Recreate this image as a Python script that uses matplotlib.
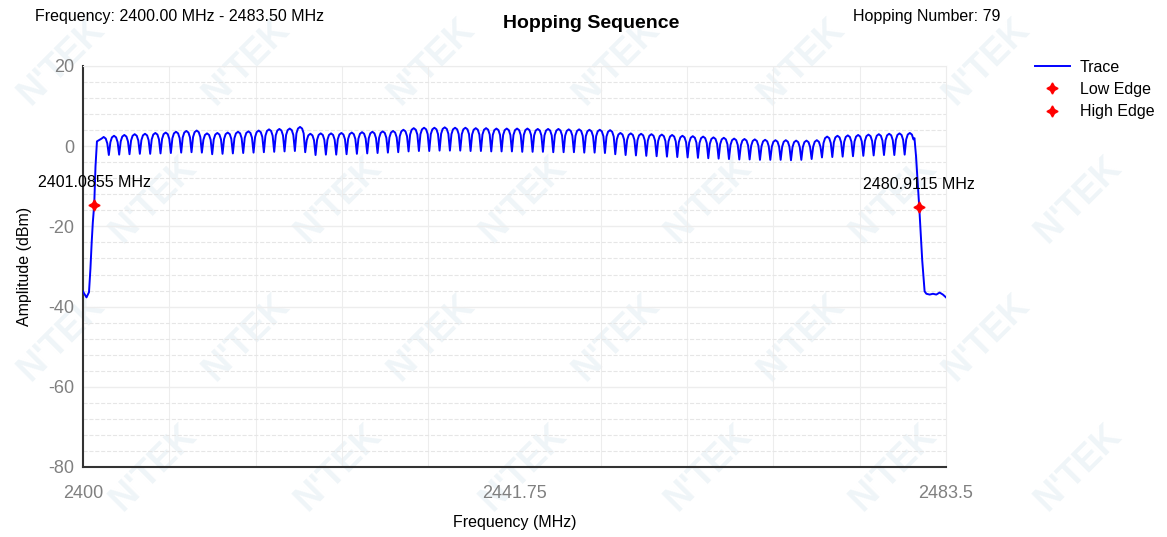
import numpy as np
import matplotlib
matplotlib.use("Agg")
import matplotlib.pyplot as plt

plt.rcParams['font.family'] = ['Liberation Sans', 'DejaVu Sans']
plt.rcParams['axes.unicode_minus'] = False

# hopping channels, 1 MHz apart
channels = np.arange(2402, 2481)

# peak level of each channel hump (dBm)
peak_db = [2.3, 2.6, 2.8, 3.0, 3.1, 3.3, 3.4, 3.6, 3.8, 3.9,
           3.2, 3.3, 3.4, 3.6, 3.7, 3.9, 4.2, 4.3, 4.4, 4.8,
           3.1, 3.2, 3.2, 3.3, 3.4, 3.5, 3.6, 3.7, 3.8, 4.1,
           4.5, 4.6, 4.6, 4.7, 4.6, 4.6, 4.5, 4.5, 4.4, 4.4,
           4.4, 4.4, 4.3, 4.3, 4.3, 4.2, 4.2, 4.1, 4.1, 4.0,
           3.3, 3.2, 3.1, 3.0, 2.9, 2.8, 2.6, 2.5, 2.4, 2.2,
           2.1, 1.9, 1.8, 1.7, 1.6, 1.5, 1.5, 1.4, 1.4, 1.5,
           2.4, 2.6, 2.7, 2.8, 2.9, 3.0, 3.1, 3.2, 3.3]

# level of the notch between neighbouring channels (dBm)
dip_db = [-2.2, -2.1, -2.0, -1.9, -1.9, -1.8, -1.7, -1.6, -1.5, -1.6,
          -2.0, -1.9, -1.8, -1.7, -1.6, -1.5, -1.4, -1.3, -1.2, -1.5,
          -2.2, -2.1, -2.1, -2.0, -1.9, -1.8, -1.7, -1.6, -1.5, -1.3,
          -1.2, -1.2, -1.1, -1.1, -1.1, -1.2, -1.2, -1.3, -1.3, -1.3,
          -1.4, -1.4, -1.4, -1.5, -1.5, -1.5, -1.6, -1.6, -1.7, -2.0,
          -2.2, -2.3, -2.4, -2.5, -2.6, -2.7, -2.8, -2.9, -3.0, -3.1,
          -3.2, -3.3, -3.3, -3.4, -3.4, -3.4, -3.5, -3.4, -3.2, -2.8,
          -2.7, -2.6, -2.5, -2.4, -2.3, -2.2, -2.2, -2.1]

# band skirts
low_skirt_f = [2400.0, 2400.1, 2400.34, 2400.58, 2400.72, 2400.84, 2400.95, 2401.0855, 2401.21, 2401.35]
low_skirt_a = [-36.2, -36.7, -37.7, -36.4, -30.5, -24.0, -19.0, -14.6, -5.0, 1.2]
high_skirt_f = [2480.45, 2480.6, 2480.9115, 2481.2, 2481.43, 2481.6, 2481.92, 2482.24, 2482.56, 2482.88, 2483.2, 2483.5]
high_skirt_a = [2.0, -2.5, -15.2, -28.5, -36.2, -36.8, -37.0, -36.8, -37.0, -36.5, -37.0, -37.7]

low_edge = (2401.0855, -14.6)
high_edge = (2480.9115, -15.2)

# hump outline inside one channel
hump_off = [-0.35, -0.2, 0.0, 0.2, 0.35]
hump_drop = [1.6, 0.4, 0.0, 0.4, 1.6]

f = list(low_skirt_f)
a = list(low_skirt_a)
for i, c in enumerate(channels):
    for o, d in zip(hump_off, hump_drop):
        if i == 0 and o < -0.3:
            continue
        f.append(c + o)
        a.append(peak_db[i] - d)
    if i < len(dip_db):
        f.append(c + 0.5)
        a.append(dip_db[i])
f += high_skirt_f
a += high_skirt_a

fig = plt.figure(figsize=(11.67, 5.37), dpi=100)
ax = fig.add_axes([83 / 1167, 1 - 467 / 537, 863 / 1167, 401 / 537])
ax.set_facecolor('none')

# faint watermark
for r, yy in enumerate([62, 200, 338, 468]):
    for xx in np.arange(62 + (r % 2) * 92, 1110, 185):
        fig.text(xx / 1167, 1 - yy / 537, "N'TEK", fontsize=26, fontweight='bold',
                 color='#e3edf3', alpha=0.55, rotation=45, ha='center', va='center', zorder=-5)

ax.plot(f, a, color='#0000ff', lw=1.4, label='Trace', zorder=3)
star = (4, 1, 0)
ax.plot(*low_edge, marker=star, color='red', ms=8, ls='none', label='Low Edge', zorder=4)
ax.plot(*high_edge, marker=star, color='red', ms=8, ls='none', label='High Edge', zorder=4)
ax.annotate('2401.0855 MHz', low_edge, xytext=(0, 16), textcoords='offset points',
            ha='center', va='center', fontsize=11.5, zorder=5)
ax.annotate('2480.9115 MHz', high_edge, xytext=(0, 16), textcoords='offset points',
            ha='center', va='center', fontsize=11.5, zorder=5)

ax.set_xlim(2400, 2483.5)
ax.set_ylim(-80, 20)
ax.set_xticks([2400, 2441.75, 2483.5])
ax.set_xticklabels(['2400', '2441.75', '2483.5'])
ax.set_yticks([20, 0, -20, -40, -60, -80])
ax.set_xticks(np.linspace(2400, 2483.5, 11), minor=True)
ax.set_yticks(np.arange(-80, 21, 4), minor=True)
ax.grid(which='minor', axis='y', color='#e6e6e6', ls='--', lw=0.8)
ax.grid(which='minor', axis='x', color='#ededed', ls='-', lw=0.8)
ax.grid(which='major', axis='y', color='#ededed', ls='-', lw=1.0)
ax.tick_params(which='both', length=0)
ax.tick_params(axis='x', pad=13, labelsize=13, labelcolor='#808080')
ax.tick_params(axis='y', pad=6, labelsize=13, labelcolor='#808080')
for s in ['top', 'right']:
    ax.spines[s].set_color('#ececec')
for s in ['left', 'bottom']:
    ax.spines[s].set_color('#333333')
    ax.spines[s].set_linewidth(1.5)

ax.set_xlabel('Frequency (MHz)', fontsize=11.5, labelpad=9)
ax.set_ylabel('Amplitude (dBm)', fontsize=11.5, labelpad=12)

fig.text(35 / 1167, 1 - 16 / 537, 'Frequency: 2400.00 MHz - 2483.50 MHz', fontsize=11.5, va='center')
fig.text(853 / 1167, 1 - 16 / 537, 'Hopping Number: 79', fontsize=11.5, va='center')
fig.text(591 / 1167, 1 - 23 / 537, 'Hopping Sequence', fontsize=14, fontweight='bold',
         ha='center', va='center')

fig.legend(loc='upper left', bbox_to_anchor=(1030 / 1167, 1 - 55 / 537), frameon=False,
           fontsize=11.5, handlelength=2.2, labelspacing=0.45, handletextpad=0.6,
           borderaxespad=0, borderpad=0.3)

fig.savefig('out.png', dpi=100)
